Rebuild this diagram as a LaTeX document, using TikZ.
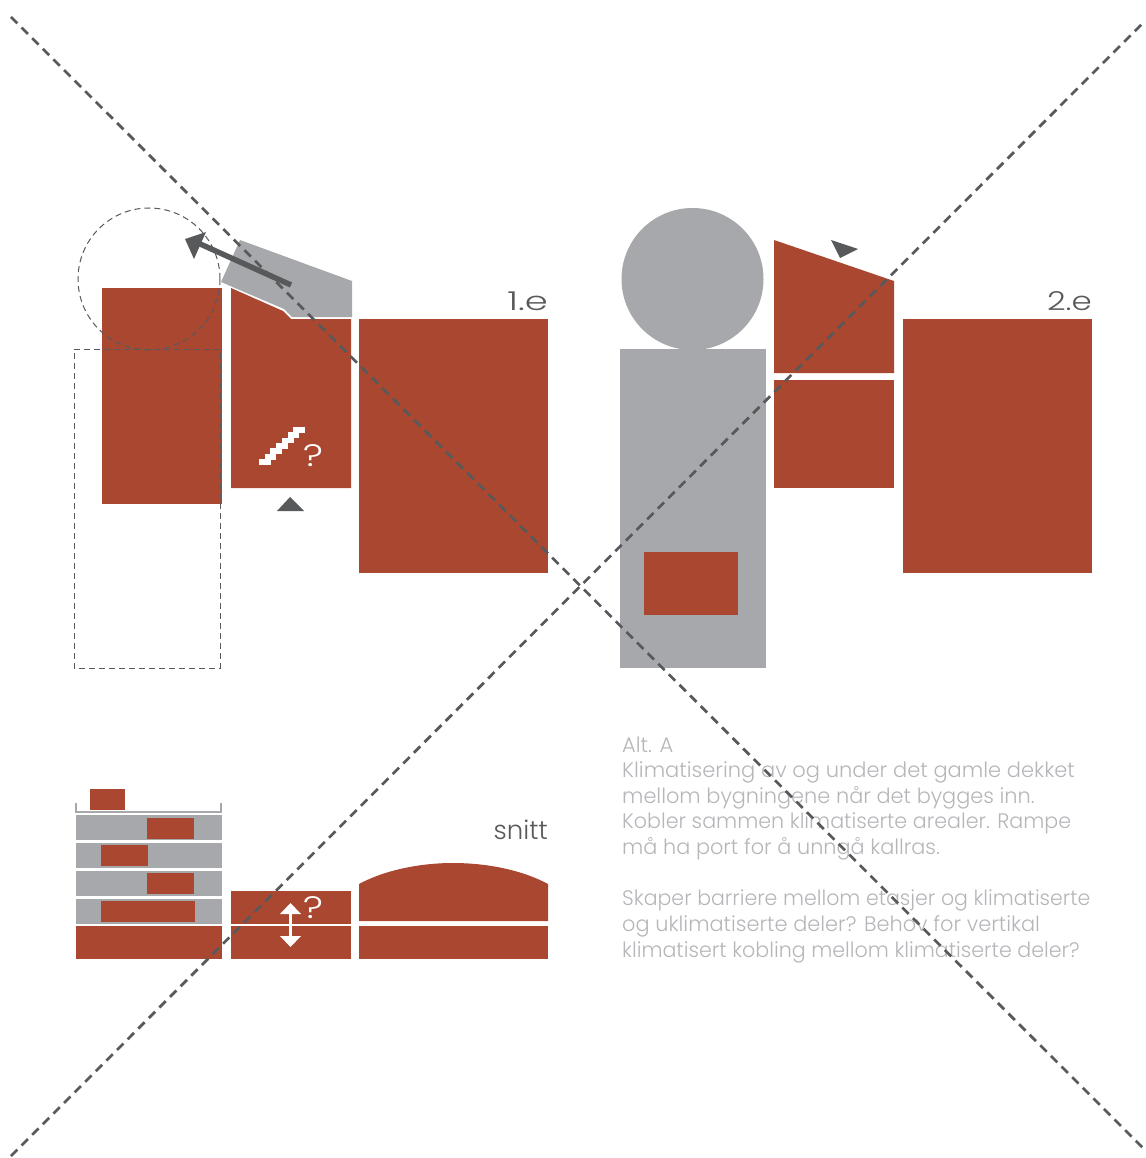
\documentclass[tikz,border=0pt]{standalone}
\usepackage{fontspec}
\setmainfont{Poppins Light}
\definecolor{brick}{HTML}{A94730}
\definecolor{stone}{HTML}{A7A8AB}
\definecolor{ink}{HTML}{58595B}
\definecolor{soft}{HTML}{B5B6B9}
\tikzset{
  brickfill/.style={fill=brick},
  stonefill/.style={fill=stone},
  inkfill/.style={fill=ink},
  diag/.style={draw=ink,line width=2.7pt,dash pattern=on 9pt off 6pt},
  thindash/.style={draw=ink,line width=1pt,dash pattern=on 6pt off 4pt},
  head/.style={anchor=base east,text=ink,font=\fontsize{26}{26}\selectfont,inner sep=0pt},
  body/.style={anchor=base west,text=soft,font=\fontsize{21}{21}\selectfont,inner sep=0pt},
  qmark/.style={anchor=base,text=white,font=\fontsize{31}{31}\selectfont,inner sep=0pt},
}
\begin{document}
\begin{tikzpicture}[x=1pt,y=-1pt]
\useasboundingbox (0,0) rectangle (1145,1158);
% plan 1.e
\path[stonefill] (240,240) -- (352,281) -- (352,317) -- (292,317) -- (284,309) -- (221,282) -- cycle;
\path[brickfill] (102,288) rectangle (222,504);
\path[brickfill] (231,288) -- (283,311) -- (291,319) -- (351,319) -- (351,488) -- (231,488) -- cycle;
\path[brickfill] (359,319) rectangle (548,573);
\draw[thindash] (149,279) circle (71);
\draw[thindash] (220,349) -- (74,349) -- (74,668) -- (220,668) -- cycle;
% stairs
\foreach \i in {0,...,6}{\path[fill=white] (259+\i*5.7,465-\i*5.4) rectangle ++(11.7,-5.8);}
\node[qmark] (q1) at (313.5,466) {\scalebox{1.25}[1]{?}};
\path[inkfill] (290,497) -- (304,511) -- (277,511) -- cycle;
% arrow
\draw[ink,line width=5.5pt] (291,285) -- (198,243);
\path[inkfill] (185,239) -- (206,232) -- (194,259) -- cycle;
\node[head] (l1) at (548,310) {\scalebox{1.42}[1]{1.e}};
% plan 2.e
\path[stonefill] (692.5,279) circle (71);
\path[stonefill] (620,349) rectangle (766,668);
\path[brickfill] (644,552) rectangle (738,615);
\path[brickfill] (774,240) -- (894,281) -- (894,373) -- (774,373) -- cycle;
\path[brickfill] (774,380) rectangle (894,488);
\path[brickfill] (903,319) rectangle (1092,573);
\path[inkfill] (831,240) -- (858,249) -- (840,258) -- cycle;
\node[head] (l2) at (1092,310) {\scalebox{1.25}[1]{2.e}};
% section
\path[brickfill] (90,789) rectangle (125,810);
\draw[stone,line width=2.2pt] (76,803) -- (76,812) -- (221,812) -- (221,803);
\foreach \y in {815,843,871,899}{\path[stonefill] (76,\y) rectangle (222,\y+25);}
\path[brickfill] (147,818) rectangle (194,839);
\path[brickfill] (101,845) rectangle (148,866);
\path[brickfill] (147,873) rectangle (194,894);
\path[brickfill] (101,901) rectangle (195,922);
\path[brickfill] (76,926) rectangle (222,959);
\path[brickfill] (231,891) rectangle (351,924);
\path[brickfill] (231,926) rectangle (351,959);
\path[brickfill] (359,926) rectangle (548,959);
\path[brickfill] (359,921) -- (359,884) .. controls (385,870) and (420,863) .. (453,863) .. controls (487,863) and (522,870) .. (548,884) -- (548,921) -- cycle;
\draw[white,line width=2.8pt] (290.5,912) -- (290.5,938);
\path[fill=white] (290.5,903) -- (301,914) -- (280,914) -- cycle;
\path[fill=white] (290.5,947) -- (301,936) -- (280,936) -- cycle;
\node[qmark] (q2) at (313.5,918) {\scalebox{1.25}[1]{?}};
\node[head] (l3) at (548,839) {snitt};
% text
\node[body] (t0) at (622,752) {Alt. A};
\node[body] (t1) at (622,777) {Klimatisering av og under det gamle dekket};
\node[body] (t2) at (622,803) {\scalebox{.993}[1]{mellom bygningene når det bygges inn.}};
\node[body] (t3) at (622,828) {\scalebox{.982}[1]{Kobler sammen klimatiserte arealer. Rampe}};
\node[body] (t4) at (622,854) {\scalebox{.99}[1]{må ha port for å unngå kallras.}};
\node[body] (t5) at (622,905) {\scalebox{.977}[1]{Skaper barriere mellom etasjer og klimatiserte}};
\node[body] (t6) at (622,931) {\scalebox{.995}[1]{og uklimatiserte deler? Behov for vertikal}};
\node[body] (t7) at (622,957) {\scalebox{.981}[1]{klimatisert kobling mellom klimatiserte deler?}};
% diagonals
\coordinate (dA) at (11,17);
\coordinate (dB) at (1145,1150);
\coordinate (dC) at (11,1156);
\coordinate (dD) at (1145,21);
\draw[diag] (dA) -- (dB);
\draw[diag] (dC) -- (dD);
\end{tikzpicture}
\end{document}
